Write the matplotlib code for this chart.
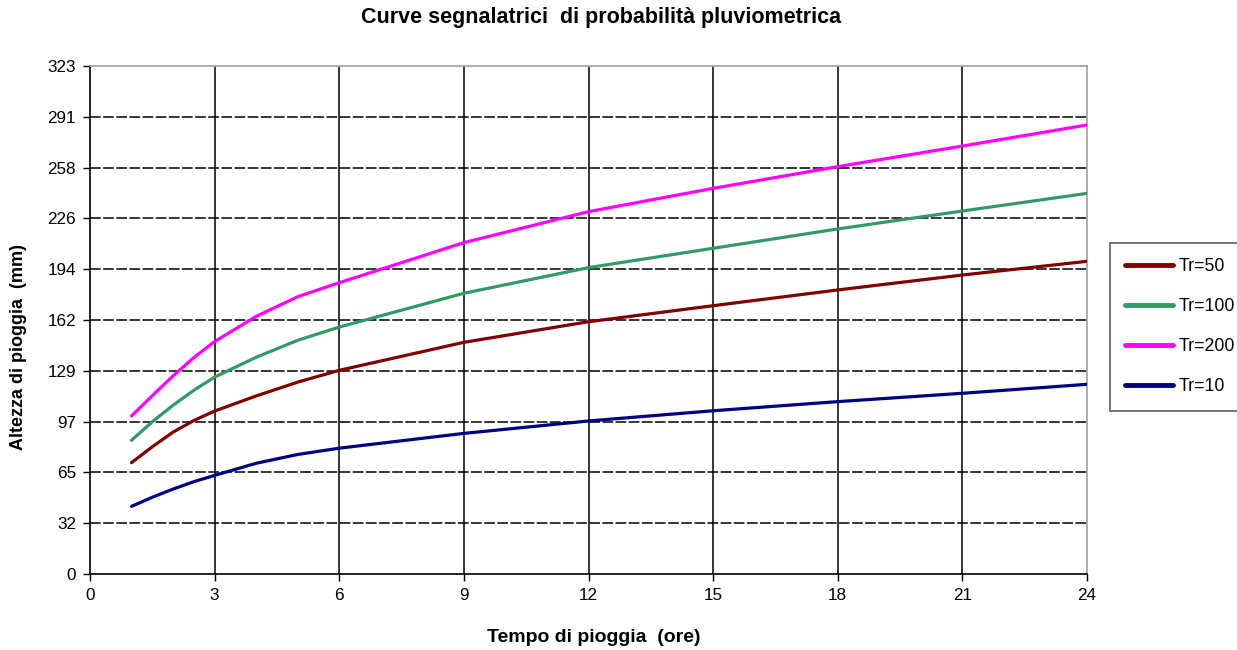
import numpy as np, matplotlib
matplotlib.use("Agg"); import matplotlib.pyplot as plt

# durations (hours) and rainfall depths (mm)
ore = [1, 1.5, 2, 2.5, 3, 4, 5, 6, 9, 12, 15, 18, 21, 24]
tr50 = [70.8, 80.9, 90.2, 97.6, 103.6, 113.2, 122.0, 129.5, 147.3, 160.4, 170.6, 180.6, 190.1, 198.8]
tr100 = [85.0, 96.8, 107.3, 116.8, 125.2, 137.8, 148.6, 157.0, 178.5, 194.8, 207.1, 219.4, 230.8, 242.0]
tr200 = [100.5, 113.4, 126.0, 137.6, 147.8, 163.8, 176.3, 185.2, 210.7, 230.4, 245.2, 259.0, 272.1, 285.5]
tr10 = [43.0, 48.8, 54.0, 58.7, 62.7, 70.4, 76.0, 80.0, 89.4, 97.3, 103.8, 109.6, 114.9, 120.6]
ymax = 323
yticks = [i*ymax/10 for i in range(11)]
ylabels = ["0", "32", "65", "97", "129", "162", "194", "226", "258", "291", "323"]
xticks = [0, 3, 6, 9, 12, 15, 18, 21, 24]

plt.rcParams.update({"font.family": ["Liberation Sans", "DejaVu Sans"], "font.size": 12})
fig = plt.figure(figsize=(12.37, 6.5), dpi=100)
ax = fig.add_axes([90/1237, 1-574/650, (1087-90)/1237, (574-66)/650])

for y in yticks[1:-1]:
    ax.axhline(y, color="black", lw=1.1, ls=(0, (7, 1.6)), zorder=1)
for x in xticks[1:-1]:
    ax.axvline(x, color="black", lw=1.1, zorder=1)

series = [("Tr=50", tr50, "#800000"), ("Tr=100", tr100, "#339966"),
          ("Tr=200", tr200, "#ff00ff"), ("Tr=10", tr10, "#000080")]
for name, vals, c in series:
    ax.plot(ore, vals, color=c, lw=2.3, label=name, zorder=3,
            solid_capstyle="round", solid_joinstyle="round")

ax.set_xlim(0, 24); ax.set_ylim(0, ymax)
ax.set_xticks(xticks); ax.set_yticks(yticks); ax.set_yticklabels(ylabels)
ax.tick_params(direction="out", length=5, width=1, pad=5, labelsize=12.3)
for s in ("left", "bottom"):
    ax.spines[s].set_color("black"); ax.spines[s].set_linewidth(1.2)
for s in ("top", "right"):
    ax.spines[s].set_color("#a0a0a0"); ax.spines[s].set_linewidth(1.2)

fig.text(601/1237, 1-18/650, "Curve segnalatrici  di probabilità pluviometrica",
         ha="center", va="center", fontsize=15.5, fontweight="bold")
ax.set_xlabel("Tempo di pioggia  (ore)", fontsize=14, fontweight="bold", va="center")
ax.xaxis.set_label_coords((594-90)/997, -(637-574)/508)
ax.set_ylabel("Altezza di pioggia  (mm)", fontsize=13, fontweight="bold")
ax.yaxis.set_label_coords(-0.063, 0.447)

leg = fig.legend(loc="upper left", bbox_to_anchor=(1110/1237, 1-243/650),
                 frameon=True, fancybox=False, edgecolor="#333333", fontsize=12.8,
                 handlelength=2.7, labelspacing=1.3, borderpad=0.85,
                 handletextpad=0.3, borderaxespad=0)
leg.get_frame().set_linewidth(1.2)
for h in leg.get_lines():
    h.set_linewidth(3.5)

plt.savefig("out.png", dpi=100)
